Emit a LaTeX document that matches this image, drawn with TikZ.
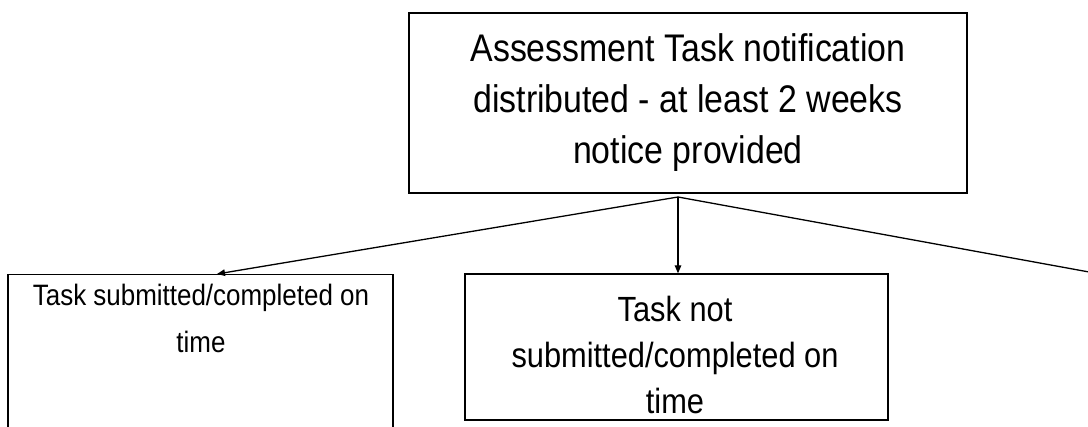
\documentclass[tikz,border=0pt]{standalone}
\usepackage{fontspec}
\setmainfont{Liberation Sans}[FakeStretch=0.88]
\usepackage{tikz}
\usetikzlibrary{arrows.meta}
\tikzset{
	taskbox/.style={draw, line width=1.3pt, align=center, inner sep=0pt},
	tasktext/.style={align=center, anchor=north, inner sep=0pt},
	flow/.style={-{Triangle[length=8pt,width=6.5pt]}, line width=1.3pt}
}

\begin{document}
\begin{tikzpicture}[x=1pt,y=-1pt]
		\useasboundingbox (0,0) rectangle (1088,427);
		\clip (0,0) rectangle (1088,427);
		\node [taskbox, minimum width=558pt, minimum height=180pt, font=\fontsize{38.5}{51}\selectfont] (notice) at (688,103) {Assessment Task notification\\distributed - at least 2 weeks\\notice provided};
		\node [taskbox, minimum width=385pt, minimum height=200pt, anchor=north] (ontime) at (200.5,274) {};
		\node [tasktext, font=\fontsize{29.5}{47}\selectfont] (ontimetext) at (201,283.5) {Task submitted/completed on\\time};
		\node [taskbox, minimum width=423pt, minimum height=146pt] (late) at (676.5,347) {};
		\node [tasktext, font=\fontsize{35}{46}\selectfont] (latetext) at (675,295.5) {Task not\\submitted/completed on\\time};
		\coordinate (split) at (678,197);
		\coordinate (third) at (1100,274);
		\draw [flow] (split)--([xshift=16.5pt]ontime.north);
		\draw [flow] (split)--(split |- late.north);
		\draw [flow] (split)--(third);
	\end{tikzpicture}
\end{document}
